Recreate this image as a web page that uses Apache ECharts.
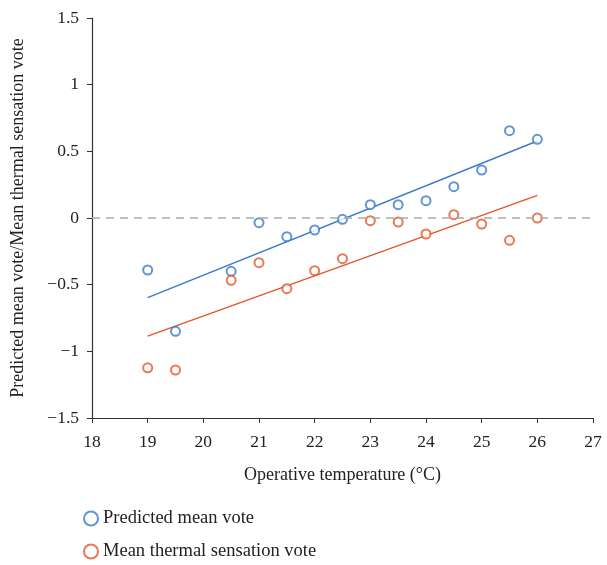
<!DOCTYPE html>
<html>
<head>
<meta charset="utf-8">
<script src="https://cdn.jsdelivr.net/npm/echarts@6/dist/echarts.min.js"></script>
<style>
  html, body { margin: 0; padding: 0; background: #fff; }
  #main { width: 607px; height: 565px; }
</style>
</head>
<body>
<div id="main"></div>
<script>
// 数据
var temps = [19, 19.5, 20.5, 21, 21.5, 22, 22.5, 23, 23.5, 24, 24.5, 25, 25.5, 26];
var pmv = [-0.39, -0.85, -0.40, -0.035, -0.14, -0.09, -0.01, 0.10, 0.10, 0.13, 0.235, 0.36, 0.655, 0.59];
var mtsv = [-1.124, -1.14, -0.467, -0.335, -0.53, -0.395, -0.305, -0.02, -0.03, -0.12, 0.025, -0.045, -0.167, 0.0];
var pmvFit = [[19, -0.597], [26, 0.577]];
var mtsvFit = [[19, -0.886], [26, 0.17]];
var seriesNames = ['Predicted mean vote', 'Mean thermal sensation vote'];

var blue = '#3b7bcb';
var orange = '#e5562a';
var font = 'Liberation Serif';

function pairs(xs, ys) {
	return xs.map(function(x, i) { return [x, ys[i]]; });
}

function legendAt(name, top) {
	return {
		left : 78,
		top : top,
		itemWidth : 14,
		itemHeight : 14,
		data : [ name ],
		textStyle : { fontFamily : font, fontSize : 18.5, color : '#222' }
	};
}

var myChart = echarts.init(document.getElementById('main'));
var option = {
	animation : false,
	textStyle : { fontFamily : font },
	grid : { left : 92, right : 14, top : 18, bottom : 147, outerBoundsMode : 'none', containLabel : false },
	legend : [ legendAt(seriesNames[0], 504), legendAt(seriesNames[1], 537) ],
	xAxis : {
		type : 'value',
		min : 18,
		max : 27,
		interval : 1,
		name : 'Operative temperature (°C)',
		nameLocation : 'middle',
		nameGap : 48,
		nameTextStyle : { fontFamily : font, fontSize : 18, color : '#222' },
		splitLine : { show : false },
		axisLine : { onZero : false, lineStyle : { color : '#333', width : 1.2 } },
		axisTick : { length : 5, lineStyle : { color : '#333' } },
		axisLabel : { fontFamily : font, fontSize : 17.5, color : '#222', margin : 15 }
	},
	yAxis : {
		type : 'value',
		min : -1.5,
		max : 1.5,
		interval : 0.5,
		name : 'Predicted mean vote/Mean thermal sensation vote',
		nameLocation : 'middle',
		nameGap : 65,
		nameTextStyle : { fontFamily : font, fontSize : 18, color : '#222' },
		splitLine : { show : false },
		axisLine : { show : true, onZero : false, lineStyle : { color : '#333', width : 1.2 } },
		axisTick : { show : true, length : 5, lineStyle : { color : '#333' } },
		axisLabel : {
			fontFamily : font, fontSize : 17.5, color : '#222', margin : 13,
			formatter : function(v) { return String(v).replace('-', '\u2212'); }
		}
	},
	series : [ {
		name : seriesNames[0],
		type : 'scatter',
		symbol : 'emptyCircle',
		symbolSize : 9,
		itemStyle : { color : blue, borderWidth : 1.2 },
		data : pairs(temps, pmv),
		markLine : {
			silent : true,
			symbol : 'none',
			label : { show : false },
			lineStyle : { type : [8, 6], color : '#aaa', width : 1.5 },
			data : [ { yAxis : 0 } ]
		},
		z : 3
	}, {
		name : seriesNames[1],
		type : 'scatter',
		symbol : 'emptyCircle',
		symbolSize : 9,
		itemStyle : { color : orange, borderWidth : 1.2 },
		data : pairs(temps, mtsv),
		z : 3
	}, {
		type : 'line',
		showSymbol : false,
		lineStyle : { color : blue, width : 1.5 },
		data : pmvFit,
		z : 2
	}, {
		type : 'line',
		showSymbol : false,
		lineStyle : { color : orange, width : 1.5 },
		data : mtsvFit,
		z : 2
	} ]
};
myChart.setOption(option);
</script>
</body>
</html>
